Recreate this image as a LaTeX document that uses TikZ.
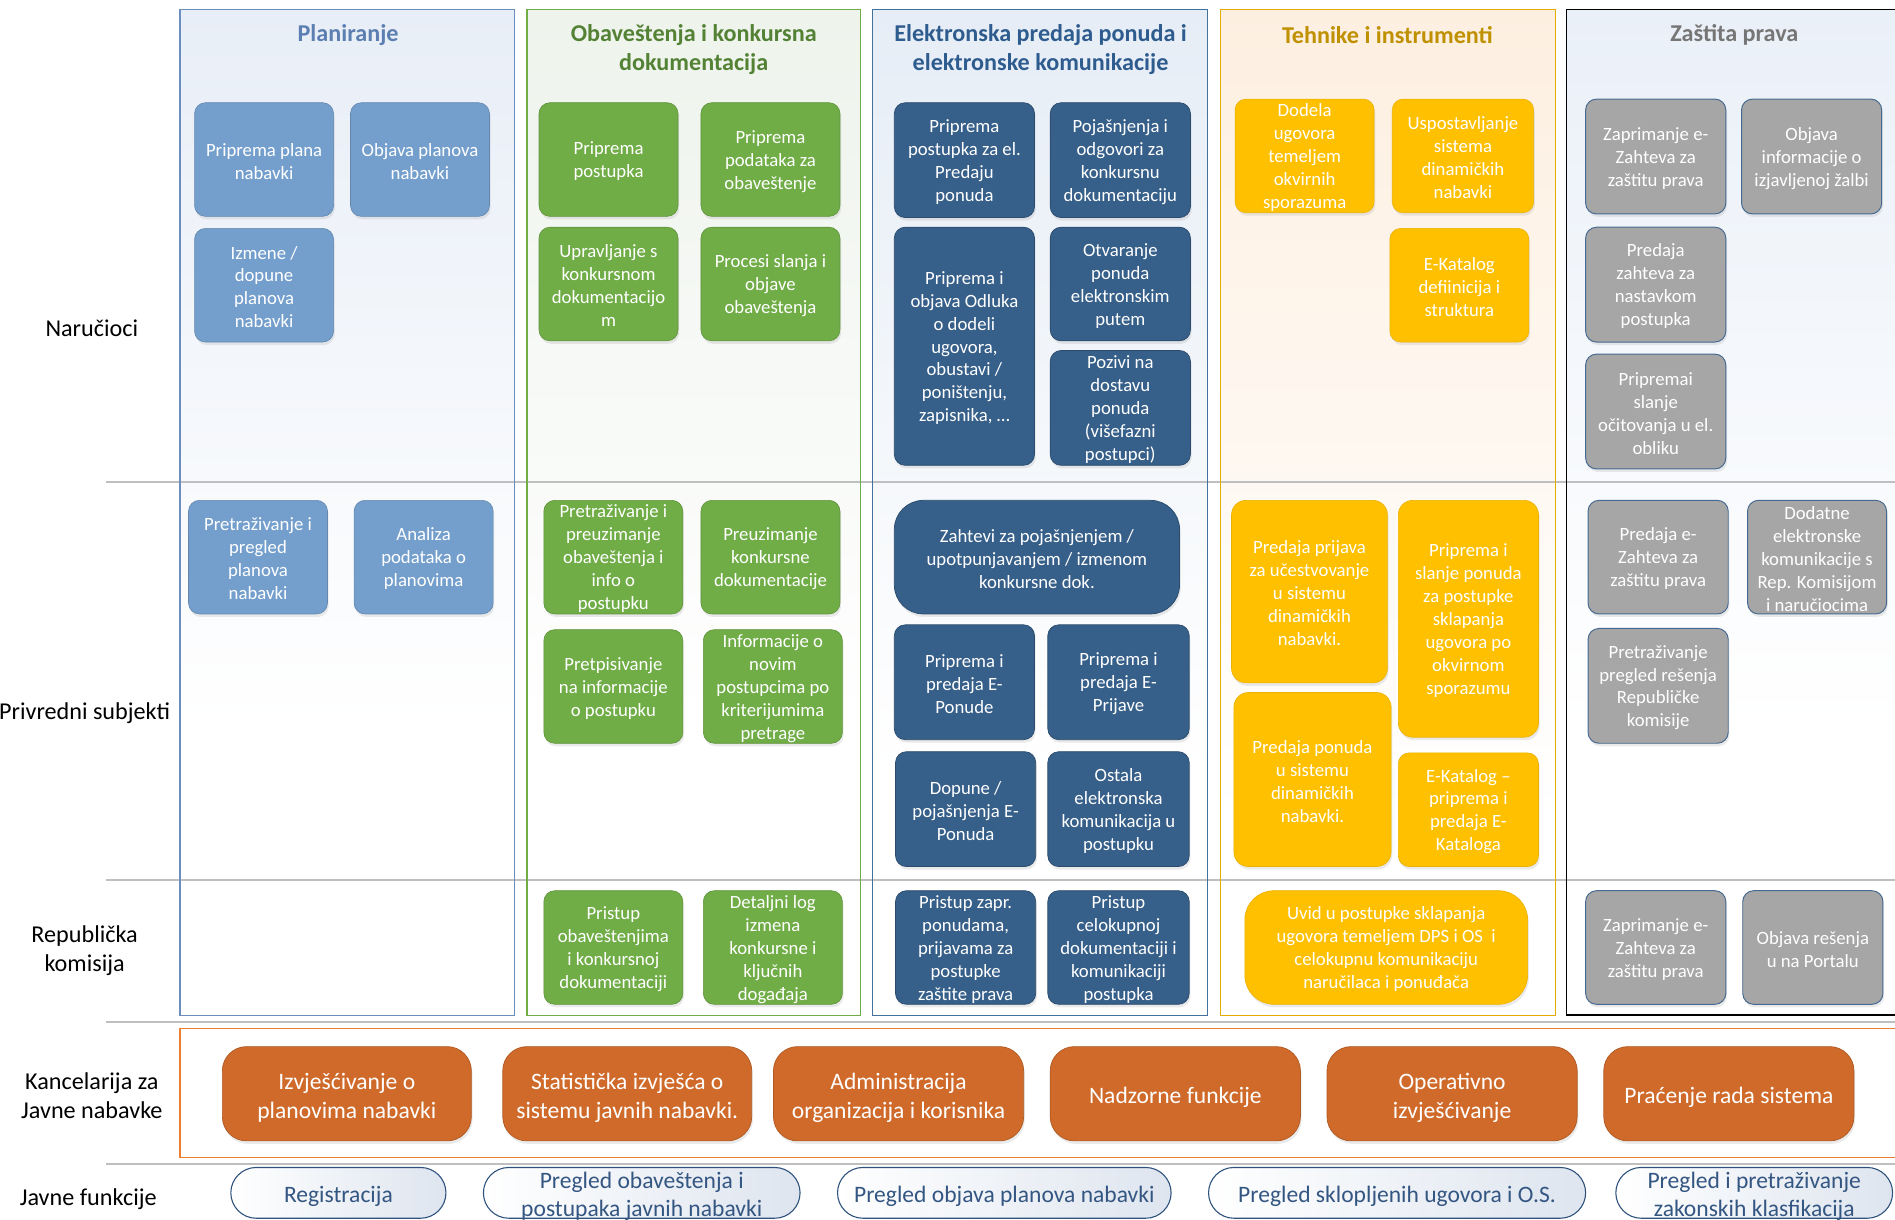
\documentclass[tikz,border=0pt]{standalone}
\usepackage{fontspec}
\setmainfont{Carlito}
\usetikzlibrary{shadows}
\definecolor{planbox}{RGB}{116,159,205}
\definecolor{planline}{RGB}{108,142,191}
\definecolor{plantitle}{RGB}{92,127,178}
\definecolor{planbg}{RGB}{232,238,247}
\definecolor{grbox}{RGB}{112,173,71}
\definecolor{grline}{RGB}{112,173,71}
\definecolor{grtitle}{RGB}{84,130,53}
\definecolor{grbg}{RGB}{238,243,236}
\definecolor{dbbox}{RGB}{54,95,137}
\definecolor{dbline}{RGB}{65,113,156}
\definecolor{dbtitle}{RGB}{46,92,142}
\definecolor{dbbg}{RGB}{230,237,246}
\definecolor{yebox}{RGB}{255,192,0}
\definecolor{yeline}{RGB}{230,172,0}
\definecolor{yetitle}{RGB}{191,144,0}
\definecolor{yebg}{RGB}{253,239,224}
\definecolor{gybox}{RGB}{166,166,166}
\definecolor{gyline}{RGB}{70,105,145}
\definecolor{gytitle}{RGB}{118,118,118}
\definecolor{gybg}{RGB}{234,240,248}
\definecolor{orbox}{RGB}{207,106,42}
\definecolor{orline}{RGB}{237,125,49}
\definecolor{pilltext}{RGB}{52,86,130}
\definecolor{pillline}{RGB}{47,82,125}
\definecolor{pillbg}{RGB}{222,229,239}
\definecolor{lanecol}{RGB}{191,191,191}
% box: name, x1, y1, x2, y2, shape style, text style, text
\newcommand{\bx}[8]{%
  \node[#6, minimum width={(#4)-(#2)}, minimum height={(#5)-(#3)}] (#1)
    at ({((#2)+(#4))/2},{((#3)+(#5))/2}) {};
  \node[#7] (#1t) at (#1.center) {#8};}
\begin{document}
\begin{tikzpicture}[x=1pt,y=-1pt,
  box/.style={rounded corners=9pt, inner sep=0pt,
    drop shadow={shadow xshift=1pt, shadow yshift=-2.5pt, opacity=0.16}},
  btxt/.style={inner sep=0pt, align=center, text=white, yshift=-1.5pt,
    font=\fontsize{15.5}{19}\selectfont},
  otxt/.style={inner sep=0pt, align=center, text=white, yshift=-3pt,
    font=\fontsize{19.5}{24}\selectfont},
  ptxt/.style={inner sep=0pt, align=center, text=pilltext, yshift=-3pt,
    font=\fontsize{19.5}{23.5}\selectfont},
  plan/.style={box, fill=planbox, draw=planbox!85!black, line width=0.5pt},
  green/.style={box, fill=grbox, draw=grbox!85!black, line width=0.5pt},
  dblue/.style={box, fill=dbbox, draw=dbbox!80!black, line width=0.6pt},
  yel/.style={box, fill=yebox, draw=yebox!92!black, line width=0.5pt},
  gry/.style={box, fill=gybox, draw=gyline, line width=0.8pt},
  orng/.style={box, rounded corners=20pt, fill=orbox, draw=orbox!85!black, line width=0.6pt},
  pill/.style={rounded corners=21pt, inner sep=0pt,
    left color=white, right color=pillbg, draw=pillline, line width=0.9pt},
  coltitle/.style={align=center, font=\fontsize{20}{24}\selectfont\bfseries},
  rowlabel/.style={align=center, text=black, font=\fontsize{20}{24.5}\selectfont},
  laneline/.style={draw=lanecol, line width=1.6pt}
]
\clip (0,0) rectangle (1568,1009);
\fill[white] (0,0) rectangle (1568,1009);

% column backgrounds
\shade[top color=planbg, bottom color=white] (149,8) rectangle (426,600);
\shade[top color=grbg, bottom color=white] (436,8) rectangle (712,600);
\shade[top color=dbbg, bottom color=white] (722,8) rectangle (999,640);
\shade[top color=yebg, bottom color=white] (1010,8) rectangle (1287,680);
\shade[top color=gybg, bottom color=white] (1296,8) rectangle (1580,600);

% lane separators
\draw[laneline] (88,399) -- (1568,399);
\draw[laneline] (88,728) -- (1568,728);
\draw[laneline] (88,846) -- (1568,846);
\draw[laneline] (88,963) -- (1568,963);

% column frames
\draw[planline, line width=1pt] (149,8) rectangle (426,840);
\draw[grline, line width=1pt] (436,8) rectangle (712,840);
\draw[dbline, line width=1pt] (722,8) rectangle (999,840);
\draw[yeline, line width=1pt] (1010,8) rectangle (1287,840);
\draw[black, line width=1.2pt] (1296,8) rectangle (1580,840);
\draw[orline, line width=1pt] (149,851) rectangle (1580,958);

% column titles
\node[coltitle, text=plantitle] (t1) at (288,29) {Planiranje};
\node[coltitle, text=grtitle] (t2) at (574,41) {Obaveštenja i konkursna\\dokumentacija};
\node[coltitle, text=dbtitle] (t3) at (861,41) {Elektronska predaja ponuda i\\elektronske komunikacije};
\node[coltitle, text=yetitle] (t4) at (1148,29) {Tehnike i instrumenti};
\node[coltitle, text=gytitle] (t5) at (1435,29) {Zaštita prava};

% row labels
\node[rowlabel] (r1) at (76,271.5) {Naručioci};
\node[rowlabel] (r2) at (70,590) {Privredni subjekti};
\node[rowlabel] (r3) at (70,786.5) {Republička\\komisija};
\node[rowlabel] (r4) at (76,906.5) {Kancelarija za\\Javne nabavke};
\node[rowlabel] (r5) at (73,992) {Javne funkcije};

% Planiranje
\bx{p1}{161}{85}{276}{179}{plan}{btxt}{Priprema plana\\nabavki}
\bx{p2}{290}{85}{405}{179}{plan}{btxt}{Objava planova\\nabavki}
\bx{p3}{161}{189}{276}{283}{plan}{btxt}{Izmene /\\dopune\\planova\\nabavki}
\bx{p4}{156}{414}{271}{508}{plan}{btxt}{Pretraživanje i\\pregled\\planova\\nabavki}
\bx{p5}{293}{414}{408}{508}{plan}{btxt}{Analiza\\podataka o\\planovima}

% Obavestenja
\bx{g1}{446}{85}{561}{179}{green}{btxt}{Priprema\\postupka}
\bx{g2}{580}{85}{695}{179}{green}{btxt}{Priprema\\podataka za\\obaveštenje}
\bx{g3}{446}{188}{561}{282}{green}{btxt}{Upravljanje s\\konkursnom\\dokumentacijo\\m}
\bx{g4}{580}{188}{695}{282}{green}{btxt}{Procesi slanja i\\objave\\obaveštenja}
\bx{g5}{450}{414}{565}{508}{green}{btxt}{Pretraživanje i\\preuzimanje\\obaveštenja i\\info o\\postupku}
\bx{g6}{580}{414}{695}{508}{green}{btxt}{Preuzimanje\\konkursne\\dokumentacije}
\bx{g7}{450}{521}{565}{615}{green}{btxt}{Pretpisivanje\\na informacije\\o postupku}
\bx{g8}{582}{521}{697}{615}{green}{btxt}{Informacije o\\novim\\postupcima po\\kriterijumima\\pretrage}
\bx{g9}{450}{737}{565}{831}{green}{btxt}{Pristup\\obaveštenjima\\i konkursnoj\\dokumentaciji}
\bx{g10}{582}{737}{697}{831}{green}{btxt}{Detaljni log\\izmena\\konkursne i\\ključnih\\događaja}

% Elektronska predaja
\bx{b1}{740}{85}{856}{180}{dblue}{btxt}{Priprema\\postupka za el.\\Predaju\\ponuda}
\bx{b2}{869}{85}{985}{180}{dblue}{btxt}{Pojašnjenja i\\odgovori za\\konkursnu\\dokumentaciju}
\bx{b3}{740}{188}{856}{385}{dblue}{btxt}{Priprema i\\objava Odluka\\o dodeli\\ugovora,\\obustavi /\\poništenju,\\zapisnika, …}
\bx{b4}{869}{188}{985}{282}{dblue}{btxt}{Otvaranje\\ponuda\\elektronskim\\putem}
\bx{b5}{869}{290}{985}{385}{dblue}{btxt}{Pozivi na\\dostavu\\ponuda\\(višefazni\\postupci)}
\bx{b6}{740}{414}{976}{508}{dblue, rounded corners=24pt}{btxt}{Zahtevi za pojašnjenjem /\\upotpunjavanjem / izmenom\\konkursne dok.}
\bx{b7}{740}{517}{856}{612}{dblue}{btxt}{Priprema i\\predaja E-\\Ponude}
\bx{b8}{867}{517}{984}{612}{dblue}{btxt}{Priprema i\\predaja E-\\Prijave}
\bx{b9}{741}{622}{857}{717}{dblue}{btxt}{Dopune /\\pojašnjenja E-\\Ponuda}
\bx{b10}{867}{622}{984}{717}{dblue}{btxt}{Ostala\\elektronska\\komunikacija u\\postupku}
\bx{b11}{741}{737}{857}{831}{dblue}{btxt}{Pristup zapr.\\ponudama,\\prijavama za\\postupke\\zaštite prava}
\bx{b12}{867}{737}{984}{831}{dblue}{btxt}{Pristup\\celokupnoj\\dokumentaciji i\\komunikaciji\\postupka}

% Tehnike i instrumenti
\bx{y1}{1022}{82}{1137}{176}{yel}{btxt}{Dodela\\ugovora\\temeljem\\okvirnih\\sporazuma}
\bx{y2}{1152}{82}{1269}{176}{yel}{btxt}{Uspostavljanje\\sistema\\dinamičkih\\nabavki}
\bx{y3}{1150}{189}{1265}{283}{yel}{btxt}{E-Katalog\\defiinicija i\\struktura}
\bx{y4}{1019}{414}{1148}{565}{yel, rounded corners=12pt}{btxt}{Predaja prijava\\za učestvovanje\\u sistemu\\dinamičkih\\nabavki.}
\bx{y5}{1021}{573}{1151}{717}{yel, rounded corners=12pt}{btxt}{Predaja ponuda\\u sistemu\\dinamičkih\\nabavki.}
\bx{y6}{1157}{414}{1273}{610}{yel, rounded corners=12pt}{btxt}{Priprema i\\slanje ponuda\\za postupke\\sklapanja\\ugovora po\\okvirnom\\sporazumu}
\bx{y7}{1157}{623}{1273}{717}{yel}{btxt}{E-Katalog –\\priprema i\\predaja E-\\Kataloga}
\bx{y8}{1030}{737}{1264}{831}{yel, rounded corners=24pt}{btxt}{Uvid u postupke sklapanja\\ugovora temeljem DPS i OS\ \ i\\celokupnu komunikaciju\\naručilaca i ponuđača}

% Zastita prava
\bx{z1}{1312}{82}{1428}{177}{gry}{btxt}{Zaprimanje e-\\Zahteva za\\zaštitu prava}
\bx{z2}{1441}{82}{1557}{177}{gry}{btxt}{Objava\\informacije o\\izjavljenoj žalbi}
\bx{z3}{1312}{188}{1428}{283}{gry}{btxt}{Predaja\\zahteva za\\nastavkom\\postupka}
\bx{z4}{1312}{293}{1428}{388}{gry}{btxt}{Pripremai\\slanje\\očitovanja u el.\\obliku}
\bx{z5}{1314}{414}{1430}{508}{gry}{btxt}{Predaja e-\\Zahteva za\\zaštitu prava}
\bx{z6}{1446}{414}{1561}{508}{gry}{btxt}{Dodatne\\elektronske\\komunikacije s\\Rep. Komisijom\\i naručiocima}
\bx{z7}{1314}{520}{1430}{615}{gry}{btxt}{Pretraživanje\\pregled rešenja\\Republičke\\komisije}
\bx{z8}{1312}{737}{1428}{831}{gry}{btxt}{Zaprimanje e-\\Zahteva za\\zaštitu prava}
\bx{z9}{1442}{737}{1558}{831}{gry}{btxt}{Objava rešenja\\u na Portalu}

% Kancelarija
\bx{k1}{184}{866}{390}{944}{orng}{otxt}{Izvješćivanje o\\planovima nabavki}
\bx{k2}{416}{866}{622}{944}{orng}{otxt}{Statistička izvješća o\\sistemu javnih nabavki.}
\bx{k3}{640}{866}{847}{944}{orng}{otxt}{Administracija\\organizacija i korisnika}
\bx{k4}{869}{866}{1076}{944}{orng}{otxt}{Nadzorne funkcije}
\bx{k5}{1098}{866}{1305}{944}{orng}{otxt}{Operativno\\izvješćivanje}
\bx{k6}{1327}{866}{1534}{944}{orng}{otxt}{Praćenje rada sistema}

% Javne funkcije
\bx{j1}{191}{966}{369}{1008}{pill}{ptxt}{Registracija}
\bx{j2}{400}{966}{662}{1008}{pill}{ptxt}{Pregled obaveštenja i\\postupaka javnih nabavki}
\bx{j3}{693}{966}{969}{1008}{pill}{ptxt}{Pregled objava planova nabavki}
\bx{j4}{1000}{966}{1312}{1008}{pill}{ptxt}{Pregled sklopljenih ugovora i O.S.}
\bx{j5}{1337}{966}{1566}{1008}{pill}{ptxt}{Pregled i pretraživanje\\zakonskih klasfikacija}
\end{tikzpicture}
\end{document}
